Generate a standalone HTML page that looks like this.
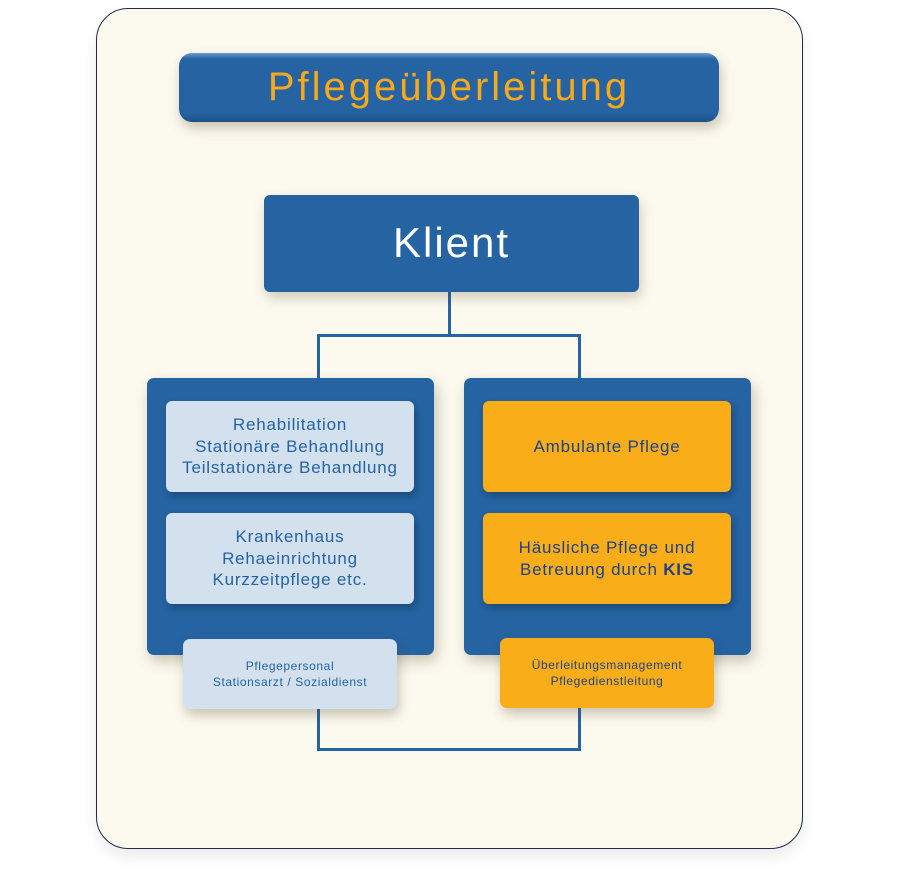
<!DOCTYPE html>
<html><head><meta charset="utf-8"><style>
html,body{margin:0;padding:0;background:#fff;}
body{width:898px;height:890px;position:relative;overflow:hidden;font-family:"Liberation Sans",sans-serif;}
.abs{position:absolute;box-sizing:border-box;}
.outer{left:96px;top:8px;width:707px;height:841px;background:#fcfaef;border:1px solid #1f2a50;border-radius:32px;box-shadow:0 8px 14px rgba(0,0,0,0.08);}
.title{left:179px;top:53px;width:540px;height:69px;border-radius:13px;background:linear-gradient(#6a9ad0 0px,#2563a3 6px,#2563a3 60px,#1d4f86 69px);box-shadow:2px 6px 12px rgba(80,70,40,0.3);color:#f7a81b;font-size:40px;letter-spacing:3px;text-align:center;line-height:69px;}
.klient{left:264px;top:195px;width:375px;height:97px;border-radius:6px;background:#2563a3;color:#fff;font-size:42px;letter-spacing:2px;text-align:center;line-height:95px;box-shadow:2px 6px 12px rgba(80,70,40,0.25);}
.cont{top:378px;width:287px;height:277px;border-radius:7px;background:#2563a3;box-shadow:3px 6px 14px rgba(80,70,40,0.3);}
.inner{width:248px;height:91px;border-radius:6px;display:flex;align-items:center;justify-content:center;text-align:center;font-size:17px;letter-spacing:0.8px;line-height:21.5px;box-shadow:2px 4px 8px rgba(0,0,0,0.25);}
.lb{background:#d3e0ee;color:#2563a3;}
.ob{background:#f9ae19;color:#1d4289;}
.foot{width:214px;height:70px;border-radius:7px;display:flex;align-items:center;justify-content:center;text-align:center;font-size:12px;letter-spacing:0.6px;line-height:16px;box-shadow:2px 6px 12px rgba(80,70,40,0.3);}
.ln{background:#2563a3;}
</style></head><body>
<div class="abs outer"></div>
<div class="abs title">Pflegeüberleitung</div>

<!-- connectors -->
<div class="abs ln" style="left:448px;top:291px;width:3px;height:46px;"></div>
<div class="abs ln" style="left:317px;top:334px;width:264px;height:3px;"></div>
<div class="abs ln" style="left:317px;top:334px;width:3px;height:46px;"></div>
<div class="abs ln" style="left:578px;top:334px;width:3px;height:46px;"></div>
<div class="abs ln" style="left:317px;top:700px;width:3px;height:51px;"></div>
<div class="abs ln" style="left:578px;top:700px;width:3px;height:51px;"></div>
<div class="abs ln" style="left:317px;top:748px;width:264px;height:3px;"></div>

<div class="abs klient">Klient</div>

<div class="abs cont" style="left:147px;"></div>
<div class="abs cont" style="left:464px;"></div>

<div class="abs inner lb" style="left:166px;top:401px;"><div>Rehabilitation<br>Stationäre Behandlung<br>Teilstationäre Behandlung</div></div>
<div class="abs inner lb" style="left:166px;top:513px;"><div>Krankenhaus<br>Rehaeinrichtung<br>Kurzzeitpflege etc.</div></div>

<div class="abs inner ob" style="left:483px;top:401px;"><div>Ambulante Pflege</div></div>
<div class="abs inner ob" style="left:483px;top:513px;"><div>Häusliche Pflege und<br>Betreuung durch <b>KIS</b></div></div>

<div class="abs foot lb" style="left:183px;top:639px;"><div>Pflegepersonal<br>Stationsarzt / Sozialdienst</div></div>
<div class="abs foot ob" style="left:500px;top:638px;"><div>Überleitungsmanagement<br>Pflegedienstleitung</div></div>
</body></html>
